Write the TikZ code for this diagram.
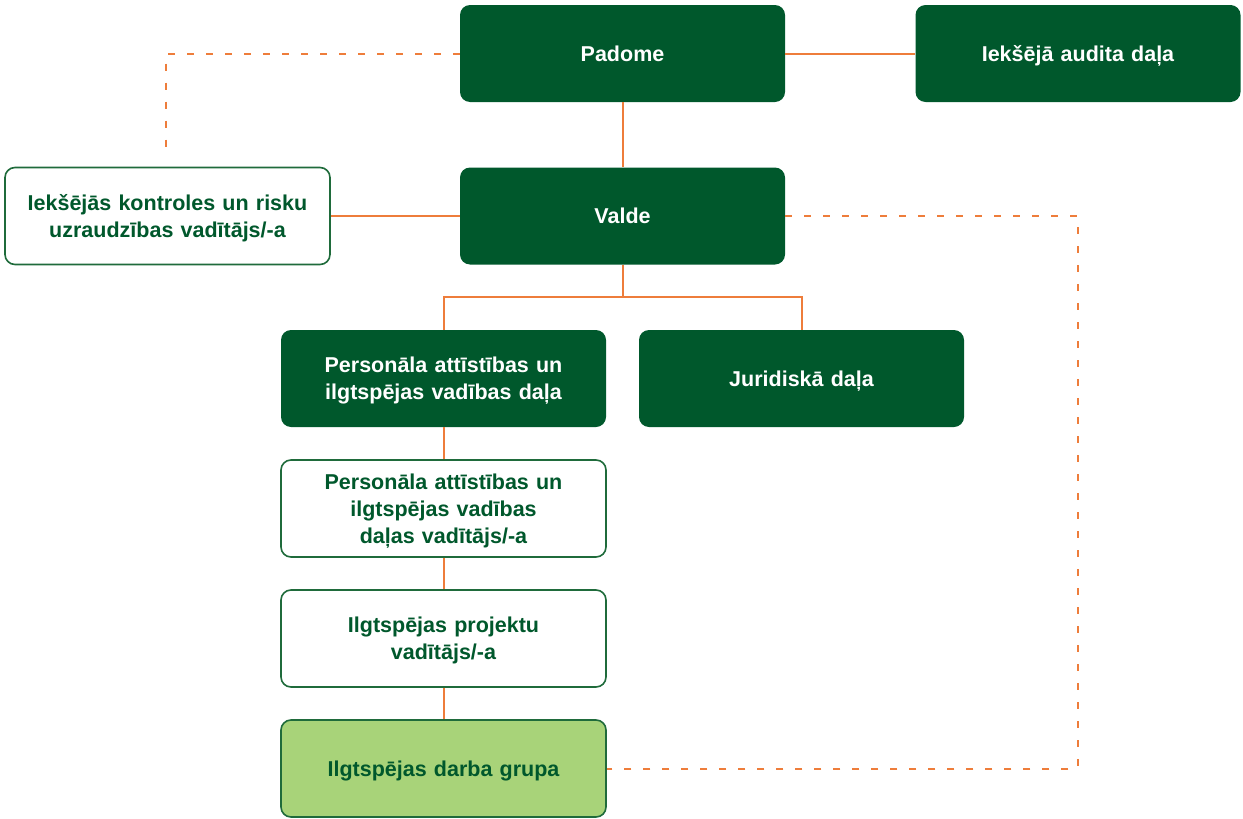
\documentclass[tikz,border=0pt]{standalone}
\usepackage{fontspec}
\setmainfont{Liberation Sans}
\definecolor{dgreen}{HTML}{00582C}
\definecolor{bgreen}{HTML}{1F6B3B}
\definecolor{lgreen}{HTML}{A8D379}
\definecolor{orng}{HTML}{EE7D3B}
\begin{document}
\begin{tikzpicture}[x=1pt,y=-1pt,
  box/.style={rounded corners=10pt,minimum width=325pt,minimum height=97pt,
    text width=315pt,align=center,inner sep=0pt,text height=15.4pt,text depth=0pt,
    font=\fontsize{21.5}{27}\selectfont\bfseries},
  twolines/.style={text depth=27pt},
  threelines/.style={text depth=54pt},
  darkbox/.style={box,fill=dgreen,text=white},
  whitebox/.style={box,draw=bgreen,line width=1.6pt,fill=white,text=dgreen},
  greenbox/.style={box,draw=bgreen,line width=1.6pt,fill=lgreen,text=dgreen},
  link/.style={draw=orng,line width=2pt},
  dlink/.style={draw=orng,line width=2pt,dash pattern=on 7pt off 12pt}]
\useasboundingbox (0,0) rectangle (1243,819);
\node[darkbox] (padome) at (622.5,53.5) {Padome};
\node[darkbox] (audit) at (1078,53.5) {Iekšējā audita daļa};
\node[whitebox,twolines] (kontr) at (167.5,216) {Iekšējās kontroles un risku\\uzraudzības vadītājs/-a};
\node[darkbox] (valde) at (622.5,216) {Valde};
\node[darkbox,twolines] (pers) at (443.5,378.5) {Personāla attīstības un\\ilgtspējas vadības daļa};
\node[darkbox] (jur) at (801.5,378.5) {Juridiskā daļa};
\node[whitebox,threelines] (persv) at (443.5,508.5) {Personāla attīstības un\\ilgtspējas vadības\\daļas vadītājs/-a};
\node[whitebox,twolines] (proj) at (443.5,638.5) {Ilgtspējas projektu\\vadītājs/-a};
\node[greenbox] (grupa) at (443.5,768.5) {Ilgtspējas darba grupa};
\coordinate (split) at (622.5,297);
\coordinate (dtop) at (166,157);
\coordinate (dcorner) at (1078,216);
\path[link] (padome) -- (audit);
\path[link] (padome) -- (valde);
\path[link] (kontr) -- (valde);
\path[link] (valde.south) -- (split);
\path[link] (pers.north) |- (split) -| (jur.north);
\path[link] (pers) -- (persv);
\path[link] (persv) -- (proj);
\path[link] (proj) -- (grupa);
\path[dlink] (padome.west) -| (dtop);
\path[dlink] (valde.east) -- (dcorner) |- (grupa.east);
\end{tikzpicture}
\end{document}
